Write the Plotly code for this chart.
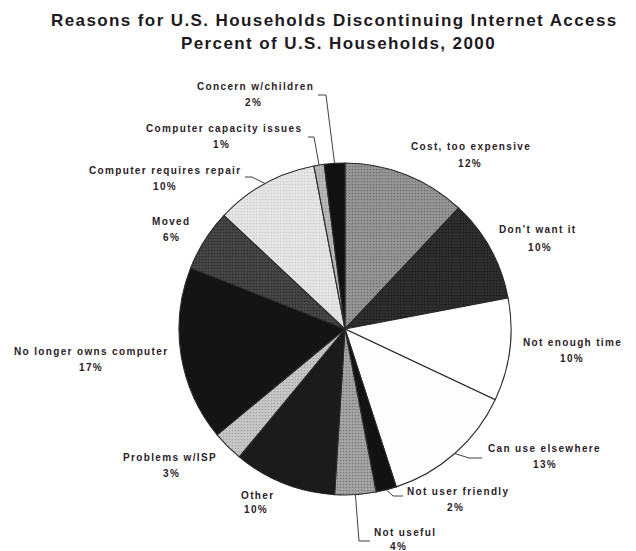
import math
import plotly.graph_objects as go

# Reasons for discontinuing internet access, clockwise from 12 o'clock
reasons = [
    "Cost, too expensive", "Don't want it", "Not enough time",
    "Can use elsewhere", "Not user friendly", "Not useful", "Other",
    "Problems w/ISP", "No longer owns computer", "Moved",
    "Computer requires repair", "Computer capacity issues",
    "Concern w/children",
]
shares = [12, 10, 10, 13, 2, 4, 10, 3, 17, 6, 10, 1, 2]

title_lines = [
    "Reasons for U.S. Households Discontinuing Internet Access",
    "Percent of U.S. Households, 2000",
]

# Grayscale fills, one per reason, with a speckle colour for halftone grain
fills = [
    "#979797", "#2e2e2e", "#ffffff", "#fdfdfd", "#121212", "#a6a6a6",
    "#1b1b1b", "#c8c8c8", "#141414", "#474747", "#e6e6e6", "#bababa",
    "#111111",
]
speckle = [
    "#6e6e6e", "#1a1a1a", "#ffffff", "#fdfdfd", "#121212", "#7a7a7a",
    "#1b1b1b", "#a4a4a4", "#141414", "#2a2a2a", "#cfcfcf", "#9a9a9a",
    "#111111",
]

W, H = 636, 551

# Pie geometry in pixels
cx, cy, r = 345, 329, 166

def px(x):
    return x / W

def py(y):
    return 1 - y / H

def spaced(text, gap):
    return f'<span style="letter-spacing:{gap}px">{text}</span>'

fig = go.Figure()
fig.add_trace(go.Pie(
    labels=reasons,
    values=shares,
    sort=False,
    direction="clockwise",
    rotation=0,
    textinfo="none",
    hoverinfo="label+percent",
    marker=dict(
        colors=fills,
        line=dict(color="#2a2a2a", width=1.1),
        pattern=dict(shape=".", fgcolor=speckle, bgcolor=fills,
                     size=3, solidity=0.25, fillmode="replace"),
    ),
    domain=dict(x=[px(cx - r), px(cx + r)], y=[py(cy + r), py(cy - r)]),
    showlegend=False,
))

# Label anchor points (pixel centres) for name and percent lines
label_pos = {
    "Cost, too expensive": ((471, 146), (470, 163)),
    "Don't want it": ((538, 230), (540, 247)),
    "Not enough time": ((572, 342), (572, 358)),
    "Can use elsewhere": ((544, 448), (545, 464)),
    "Not user friendly": ((458, 491), (455, 507)),
    "Not useful": ((405, 532), (398, 546)),
    "Other": ((257, 495), (256, 510)),
    "Problems w/ISP": ((170, 457), (171, 473)),
    "No longer owns computer": ((91, 351), (91, 367)),
    "Moved": ((171, 221), (171, 237)),
    "Computer requires repair": ((165, 170), (165, 186)),
    "Computer capacity issues": ((224, 128), (221, 144)),
    "Concern w/children": ((255, 86), (253, 103)),
}

label_font = dict(family="Liberation Sans", size=10, color="#2a2228",
                  weight="bold")
display_name = {"Don't want it": "Don\u2019t want it"}

annotations = []
for name, val in zip(reasons, shares):
    (nx, ny), (qx, qy) = label_pos[name]
    annotations.append(dict(
        x=px(nx), y=py(ny), xref="paper", yref="paper",
        text=spaced(display_name.get(name, name), 1.35), showarrow=False,
        xanchor="center", yanchor="middle", font=label_font,
    ))
    annotations.append(dict(
        x=px(qx), y=py(qy), xref="paper", yref="paper",
        text=spaced(f"{val}%", 1.35), showarrow=False,
        xanchor="center", yanchor="middle", font=label_font,
    ))

# Two-line heading
title_font = dict(family="Liberation Sans", size=17, color="#1e1a1e",
                  weight="bold")
for line, (tx, ty) in zip(title_lines, [(334, 21), (338, 44)]):
    annotations.append(dict(
        x=px(tx), y=py(ty), xref="paper", yref="paper",
        text=spaced(line, 1.4), showarrow=False,
        xanchor="center", yanchor="middle", font=title_font,
    ))

# Slice mid-angle edge points, used as leader-line ends
total = sum(shares)
edge = {}
acc = 0
for name, val in zip(reasons, shares):
    mid = (acc + val / 2) / total * 2 * math.pi
    edge[name] = (cx + r * math.sin(mid), cy - r * math.cos(mid))
    acc += val

# Leader-line elbows: start near the label, bend, then run to the slice
leaders = {
    "Concern w/children": [(318, 95), (326, 95)],
    "Computer capacity issues": [(308, 137), (314, 137)],
    "Computer requires repair": [(245, 177), (252, 177)],
    "Can use elsewhere": [(482, 458), (469, 458)],
    "Not user friendly": [(403, 496), (393, 496)],
    "Not useful": [(370, 541), (359, 541)],
}

shapes = []
for name, pts in leaders.items():
    ex, ey = edge[name]
    path = f"M {px(pts[0][0])},{py(pts[0][1])}"
    for x, y in pts[1:]:
        path += f" L {px(x)},{py(y)}"
    path += f" L {px(ex)},{py(ey)}"
    shapes.append(dict(type="path", path=path, xref="paper", yref="paper",
                       line=dict(color="#4a3a48", width=1)))

fig.update_layout(
    width=W, height=H,
    margin=dict(l=0, r=0, t=0, b=0),
    paper_bgcolor="white",
    plot_bgcolor="white",
    annotations=annotations,
    shapes=shapes,
)

fig.write_html("out.html")
